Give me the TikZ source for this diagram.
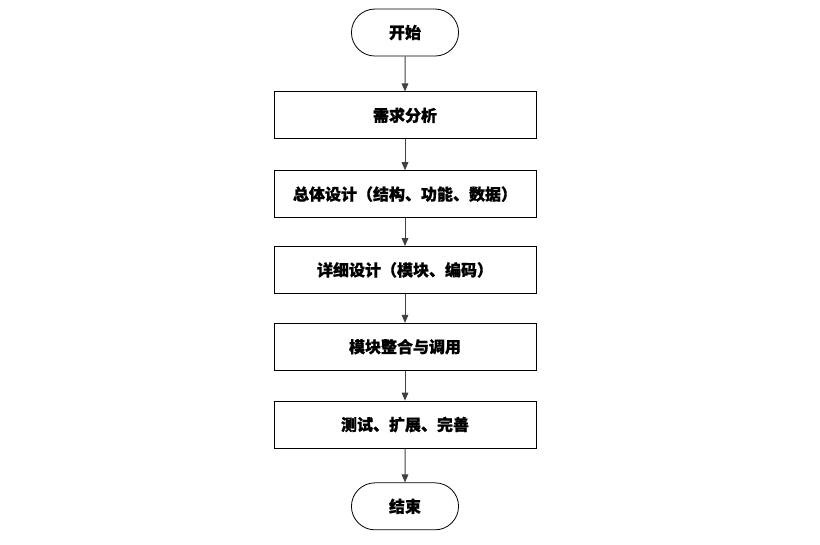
\documentclass[tikz,border=0pt]{standalone}
\usepackage{fontspec}
\newfontfamily\cjk[FakeBold=0.8]{Noto Sans CJK SC}
\usetikzlibrary{positioning,arrows.meta,shapes.misc}
\begin{document}
\begin{tikzpicture}[->,>={Triangle[length=6pt,width=5pt]},node distance=22.5pt,
  main node/.style={rectangle,draw=black,line width=0.6pt,minimum width=196.5pt,minimum height=35.25pt,font=\cjk\bfseries\fontsize{12pt}{14pt}\selectfont},
  end node/.style={rounded rectangle,draw=black,line width=0.6pt,minimum width=87pt,minimum height=35.25pt,font=\cjk\bfseries\fontsize{12pt}{14pt}\selectfont},
  link/.style={draw=black!75,line width=0.75pt}]
        \useasboundingbox (0,0) rectangle (615pt,-408.75pt);
        \node[end node] (0) at (303.75pt,-24.4pt) {开始};
        \node[main node] (1) [below=26.25pt of 0] {需求分析};
        \node[main node] (2) [below=23.25pt of 1] {总体设计（结构、功能、数据）};
        \node[main node] (3) [below=21pt of 2] {详细设计（模块、编码）};
        \node[main node] (4) [below=21.75pt of 3] {模块整合与调用};
        \node[main node] (5) [below=22.5pt of 4] {测试、扩展、完善};
        \node[end node] (6) [below=25.5pt of 5] {结束};
        \foreach \a/\b in {0/1,1/2,2/3,3/4,4/5,5/6}
          \draw[link] (\a) -- (\b);
      \end{tikzpicture}
\end{document}
